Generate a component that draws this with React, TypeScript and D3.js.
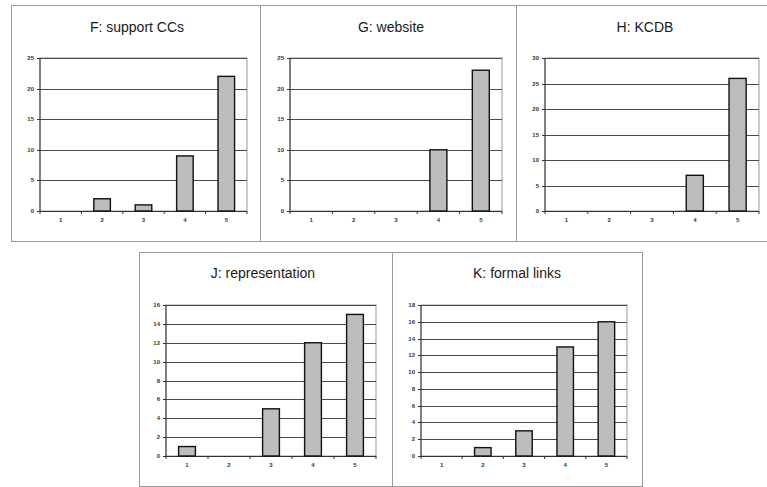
import React from "react";
import * as d3 from "d3";

const categories = ["1", "2", "3", "4", "5"];
const valuesF = [0, 2, 1, 9, 22];
const valuesG = [0, 0, 0, 10, 23];
const valuesH = [0, 0, 0, 7, 26];
const valuesJ = [1, 0, 5, 12, 15];
const valuesK = [0, 1, 3, 13, 16];
const titles = ["F: support CCs", "G: website", "H: KCDB", "J: representation", "K: formal links"];
const yMaxes = [25, 25, 30, 16, 18];
const ySteps = [5, 5, 5, 2, 2];

type Layout = { box: [number, number, number, number]; plot: [number, number, number, number]; titleX: number; titleY: number };

const layouts: Layout[] = [
  { box: [11, 5, 260, 241], plot: [40, 58, 247, 211], titleX: 137, titleY: 32 },
  { box: [260, 5, 516, 241], plot: [290, 58, 502, 211], titleX: 391, titleY: 32 },
  { box: [516, 5, 770, 241], plot: [545, 58, 759, 211], titleX: 645, titleY: 32 },
  { box: [139, 252, 392, 486], plot: [166, 305, 376, 456], titleX: 263, titleY: 278 },
  { box: [392, 252, 642, 486], plot: [421, 305, 627, 456], titleX: 517, titleY: 278 },
];

const allValues = [valuesF, valuesG, valuesH, valuesJ, valuesK];
const FONT = "Liberation Sans, Arial, sans-serif";

function Panel({ idx }: { idx: number }) {
  const L = layouts[idx];
  const vals = allValues[idx];
  const [x0, y0, x1, y1] = L.plot;
  const x = d3.scaleBand<string>().domain(categories).range([x0, x1]).paddingInner(0.6).paddingOuter(0.3);
  const xb = d3.scaleBand<string>().domain(categories).range([x0, x1]);
  const y = d3.scaleLinear().domain([0, yMaxes[idx]]).range([y1, y0]);
  const ticks = d3.range(0, yMaxes[idx] + 0.001, ySteps[idx]);
  const [bx0, by0, bx1, by1] = L.box;
  return (
    <g>
      <rect x={bx0 + 0.5} y={by0 + 0.5} width={bx1 - bx0} height={by1 - by0} fill="#fff" stroke="#9a9a9a" strokeWidth={1} />
      <text x={L.titleX} y={L.titleY} textAnchor="middle" fontFamily={FONT} fontSize={14} fill="#1a1a1a">
        {titles[idx]}
      </text>
      <rect x={x0} y={y0} width={x1 - x0} height={y1 - y0} fill="#fff" stroke="#999" strokeWidth={1} />
      {ticks.map((t) => (
        <g key={t}>
          <line x1={x0} x2={x1} y1={Math.round(y(t)) + 0.5} y2={Math.round(y(t)) + 0.5} stroke="#4a4a4a" strokeWidth={1} />
          <line x1={x0 - 3} x2={x0} y1={Math.round(y(t)) + 0.5} y2={Math.round(y(t)) + 0.5} stroke="#333" strokeWidth={1} />
          <text x={x0 - 6} y={y(t) + 2} textAnchor="end" fontFamily={FONT} fontSize={6} fontWeight="bold" fill="#333">
            {t}
          </text>
        </g>
      ))}
      <line x1={x0} x2={x0} y1={y0} y2={y1} stroke="#333" strokeWidth={1} />
      <line x1={x0} x2={x1} y1={y1 + 0.5} y2={y1 + 0.5} stroke="#333" strokeWidth={1} />
      {categories.map((c) => (
        <line key={"t" + c} x1={xb(c)!} x2={xb(c)!} y1={y1} y2={y1 + 3} stroke="#333" strokeWidth={1} />
      ))}
      <line x1={x1} x2={x1} y1={y1} y2={y1 + 3} stroke="#333" strokeWidth={1} />
      {categories.map((c) => (
        <text key={"l" + c} x={xb(c)! + xb.bandwidth() / 2} y={y1 + 11} textAnchor="middle" fontFamily={FONT} fontSize={6} fontWeight="bold" fill="#333">
          {c}
        </text>
      ))}
      {categories.map((c, i) =>
        vals[i] > 0 ? (
          <rect key={"b" + c} x={x(c)!} y={y(vals[i])} width={x.bandwidth()} height={y(0) - y(vals[i])} fill="#bdbdbd" stroke="#111" strokeWidth={1.4} />
        ) : null
      )}
    </g>
  );
}

export default function App() {
  return (
    <svg width={767} height={487} style={{ position: "absolute", left: 0, top: 0 }}>
      <rect width={767} height={487} fill="#fff" />
      {layouts.map((_, i) => (
        <Panel key={i} idx={i} />
      ))}
    </svg>
  );
}
